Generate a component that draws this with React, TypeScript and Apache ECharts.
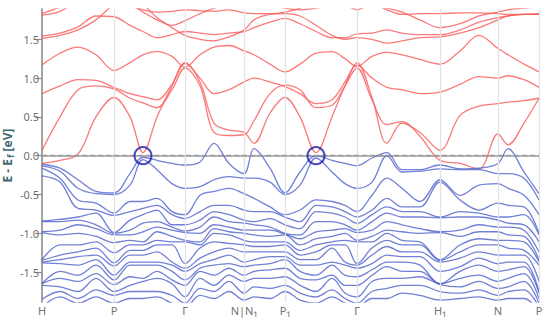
import React, { useEffect, useRef } from "react";
import * as echarts from "echarts";

// k-path sample positions (arbitrary path-length units)
const kPoints = [0, 18, 36, 54, 72, 88, 101, 115, 130, 143, 158, 172, 187, 202, 212, 228, 243, 258, 274, 290, 303, 315, 330, 345, 360, 378, 398, 418, 437, 456, 466, 482, 497];

// high-symmetry points
const symLabels = ["H", "P", "Γ", "N|N₁", "P₁", "Γ", "H₁", "N", "P"];
const symPositions = [0, 72, 143, 202, 243, 315, 398, 456, 497];
const yTicks = [-1.5, -1, -0.5, 0, 0.5, 1, 1.5];
const diracPoints = [[101, 0], [274, 0]];

// conduction bands (eV), one value per kPoint
const cb1 = [-0.10, -0.06, 0.02, 0.50, 0.75, 0.50, 0.04, 0.50, 0.90, 1.20, 0.95, 0.42, 0.33, 0.30, 0.16, 0.55, 0.75, 0.50, 0.04, 0.50, 0.90, 1.20, 0.75, 0.16, 0.42, 0.30, 0.07, 0.52, 0.64, 0.67, 0.69, 0.71, 0.74];
const cb2 = [0.80, 0.90, 0.98, 0.97, 0.88, 0.80, 0.76, 0.72, 0.92, 1.19, 1.00, 0.80, 0.85, 0.95, 1.00, 0.95, 0.89, 0.80, 0.67, 0.72, 0.95, 1.17, 1.00, 0.88, 0.85, 0.80, 0.82, 0.92, 1.02, 1.00, 1.03, 0.98, 0.88];
const cb3 = [0.07, 0.50, 0.85, 0.90, 0.86, 0.74, 0.68, 0.62, 0.85, 1.13, 0.90, 0.30, 0.26, 0.27, 0.45, 0.80, 0.91, 0.85, 0.62, 0.65, 0.90, 1.13, 0.72, 0.40, 0.44, 0.25, -0.06, -0.10, -0.17, 0.28, 0.14, 0.42, 0.74];
const cb4 = [1.17, 1.32, 1.40, 1.30, 1.10, 1.20, 1.30, 1.34, 1.28, 1.14, 1.30, 1.40, 1.42, 1.35, 1.30, 1.18, 1.08, 1.18, 1.32, 1.34, 1.25, 1.15, 1.28, 1.33, 1.30, 1.24, 1.18, 1.35, 1.55, 1.38, 1.30, 1.18, 1.08];
const cb5 = [1.54, 1.58, 1.66, 1.80, 1.79, 1.68, 1.60, 1.52, 1.56, 1.60, 1.58, 1.56, 1.58, 1.60, 1.65, 1.72, 1.77, 1.70, 1.60, 1.52, 1.52, 1.57, 1.58, 1.62, 1.58, 1.56, 1.56, 1.62, 1.72, 1.78, 1.80, 1.82, 1.82];
const cb6 = [1.51, 1.55, 1.62, 1.75, 1.95, 2.05, 1.95, 1.78, 1.65, 1.55, 1.50, 1.48, 1.53, 1.62, 1.75, 1.82, 1.83, 1.80, 1.68, 1.55, 1.50, 1.52, 1.50, 1.45, 1.48, 1.52, 1.53, 1.58, 1.65, 1.75, 1.80, 1.82, 1.83];
const cb7 = [1.83, 1.92, 2.05, 2.10, 2.05, 1.95, 1.88, 1.85, 1.86, 1.88, 1.87, 1.86, 1.88, 1.84, 1.83, 1.83, 1.85, 1.90, 2.00, 2.00, 1.95, 1.88, 1.95, 1.88, 1.82, 1.83, 1.83, 1.84, 1.84, 1.83, 1.82, 1.82, 1.82];
const cb8 = [1.81, 1.86, 2.00, 2.10, 2.00, 1.95, 1.85, 1.75, 1.68, 1.74, 1.83, 1.90, 1.95, 2.00, 2.00, 1.95, 1.90, 1.88, 1.90, 1.95, 2.00, 2.00, 1.95, 1.90, 1.85, 1.75, 1.65, 1.70, 1.80, 1.85, 1.88, 1.90, 1.92];
const conductionBands = [cb1, cb2, cb3, cb4, cb5, cb6, cb7, cb8];

// valence energies (eV) at each kPoint, highest first
const valenceAtK = [
  [-0.11, -0.13, -0.16, -0.26, -0.84, -0.85, -0.98, -0.99, -1.34, -1.35, -1.37, -1.38, -1.65, -1.65, -1.67, -1.85, -1.95],
  [-0.16, -0.20, -0.29, -0.34, -0.82, -0.85, -0.96, -1.02, -1.15, -1.28, -1.34, -1.39, -1.49, -1.58, -1.69, -1.75, -1.82],
  [-0.31, -0.42, -0.57, -0.68, -0.79, -0.83, -0.89, -1.00, -1.15, -1.24, -1.30, -1.41, -1.54, -1.62, -1.75, -1.84, -1.90],
  [-0.46, -0.49, -0.61, -0.70, -0.74, -0.89, -0.94, -1.04, -1.11, -1.19, -1.28, -1.34, -1.41, -1.52, -1.58, -1.73, -1.82],
  [-0.48, -0.50, -0.74, -0.77, -0.99, -1.00, -1.02, -1.12, -1.25, -1.38, -1.42, -1.54, -1.60, -1.66, -1.75, -1.80, -1.90],
  [-0.23, -0.38, -0.59, -0.72, -0.83, -0.96, -1.02, -1.09, -1.15, -1.22, -1.28, -1.37, -1.41, -1.56, -1.67, -1.75, -1.84],
  [-0.02, -0.05, -0.59, -0.68, -0.76, -0.87, -0.98, -1.11, -1.15, -1.22, -1.28, -1.37, -1.41, -1.58, -1.62, -1.75, -1.84],
  [-0.06, -0.18, -0.55, -0.64, -0.70, -0.85, -0.92, -0.98, -1.09, -1.15, -1.24, -1.37, -1.41, -1.49, -1.58, -1.75, -1.82],
  [-0.10, -0.36, -0.72, -0.76, -0.89, -0.92, -0.96, -1.04, -1.11, -1.15, -1.37, -1.41, -1.49, -1.60, -1.65, -1.80, -1.90],
  [-0.12, -0.42, -0.76, -0.81, -0.89, -0.97, -0.99, -1.09, -1.11, -1.39, -1.45, -1.49, -1.60, -1.67, -1.82, -1.90, -1.95],
  [-0.08, -0.40, -0.51, -0.72, -0.83, -0.92, -1.00, -1.11, -1.15, -1.19, -1.32, -1.39, -1.45, -1.49, -1.58, -1.71, -1.80],
  [0.16, -0.31, -0.46, -0.64, -0.72, -0.79, -0.89, -0.94, -1.00, -1.11, -1.24, -1.34, -1.41, -1.54, -1.67, -1.75, -1.84],
  [-0.10, -0.27, -0.42, -0.64, -0.76, -0.85, -0.92, -0.98, -1.02, -1.13, -1.19, -1.28, -1.39, -1.45, -1.54, -1.62, -1.75],
  [-0.23, -0.29, -0.49, -0.70, -0.83, -0.87, -0.96, -1.00, -1.09, -1.15, -1.24, -1.37, -1.43, -1.54, -1.62, -1.77, -1.86],
  [0.09, -0.29, -0.55, -0.72, -0.85, -0.89, -0.96, -1.02, -1.11, -1.17, -1.24, -1.34, -1.41, -1.49, -1.58, -1.69, -1.82],
  [-0.16, -0.34, -0.66, -0.72, -0.81, -0.92, -0.96, -1.04, -1.11, -1.17, -1.24, -1.30, -1.39, -1.47, -1.58, -1.71, -1.84],
  [-0.48, -0.50, -0.76, -0.79, -0.89, -1.00, -1.01, -1.02, -1.11, -1.15, -1.24, -1.30, -1.34, -1.45, -1.56, -1.67, -1.75],
  [-0.21, -0.38, -0.70, -0.85, -0.94, -1.02, -1.07, -1.15, -1.22, -1.28, -1.34, -1.41, -1.49, -1.58, -1.67, -1.77, -1.86],
  [0.00, -0.03, -0.57, -0.64, -0.72, -0.85, -0.98, -1.07, -1.15, -1.24, -1.34, -1.41, -1.54, -1.60, -1.75, -1.82, -1.90],
  [-0.06, -0.21, -0.59, -0.66, -0.74, -0.85, -0.96, -1.04, -1.11, -1.15, -1.19, -1.37, -1.41, -1.54, -1.58, -1.73, -1.82],
  [-0.10, -0.36, -0.64, -0.72, -0.79, -0.89, -0.94, -1.00, -1.09, -1.15, -1.37, -1.41, -1.54, -1.67, -1.77, -1.84, -1.90],
  [-0.13, -0.42, -0.72, -0.79, -0.87, -0.96, -0.99, -1.09, -1.11, -1.39, -1.41, -1.45, -1.56, -1.67, -1.82, -1.90, -1.95],
  [-0.03, -0.34, -0.51, -0.70, -0.76, -0.85, -0.96, -1.04, -1.11, -1.19, -1.28, -1.39, -1.47, -1.54, -1.62, -1.75, -1.84],
  [0.04, 0.00, -0.29, -0.55, -0.66, -0.74, -0.85, -0.96, -1.00, -1.09, -1.17, -1.28, -1.37, -1.43, -1.58, -1.71, -1.84],
  [-0.18, -0.21, -0.42, -0.66, -0.72, -0.79, -0.89, -0.98, -1.09, -1.15, -1.24, -1.30, -1.37, -1.49, -1.58, -1.67, -1.77],
  [-0.18, -0.20, -0.59, -0.66, -0.72, -0.79, -0.94, -1.00, -1.11, -1.15, -1.24, -1.30, -1.41, -1.49, -1.56, -1.67, -1.80],
  [-0.12, -0.17, -0.31, -0.34, -0.79, -0.80, -0.98, -0.99, -1.34, -1.35, -1.37, -1.49, -1.65, -1.65, -1.66, -1.75, -1.86],
  [-0.17, -0.18, -0.51, -0.57, -0.72, -0.79, -0.96, -1.04, -1.15, -1.24, -1.32, -1.43, -1.49, -1.58, -1.69, -1.77, -1.84],
  [-0.16, -0.18, -0.38, -0.70, -0.74, -0.79, -0.89, -0.98, -1.07, -1.15, -1.24, -1.32, -1.41, -1.54, -1.62, -1.73, -1.82],
  [-0.10, -0.23, -0.36, -0.61, -0.79, -0.83, -0.92, -0.98, -1.09, -1.15, -1.28, -1.39, -1.49, -1.62, -1.71, -1.80, -1.86],
  [0.09, -0.23, -0.42, -0.64, -0.79, -0.87, -0.92, -1.02, -1.09, -1.19, -1.28, -1.37, -1.47, -1.58, -1.69, -1.75, -1.84],
  [-0.21, -0.29, -0.51, -0.66, -0.76, -0.89, -0.96, -1.04, -1.11, -1.22, -1.28, -1.37, -1.43, -1.52, -1.62, -1.73, -1.84],
  [-0.49, -0.57, -0.76, -1.00, -1.02, -1.11, -1.24, -1.34, -1.37, -1.41, -1.62, -1.75, -1.77, -1.84, -1.90, -1.95, -2.00],
];

const RED = "rgba(250,92,92,0.82)";
const BLUE = "rgba(80,100,205,0.82)";

export default function App() {
  const ref = useRef<HTMLDivElement>(null);

  useEffect(() => {
    if (!ref.current) return;
    const chart = echarts.init(ref.current, undefined, { renderer: "svg" });

    const nValence = valenceAtK[0].length;
    const valenceBands: number[][] = [];
    for (let b = 0; b < nValence; b++) valenceBands.push(valenceAtK.map((col) => col[b]));

    const bandSeries = (bands: number[][], color: string) =>
      bands.map((band) => ({
        type: "line",
        data: kPoints.map((k, i) => [k, band[i]]),
        smooth: 0.35,
        symbol: "none",
        silent: true,
        z: 3,
        lineStyle: { color, width: 1.3 },
      }));

    const option: any = {
      animation: false,
      grid: { left: 42, right: 11, top: 9, bottom: 20, containLabel: false, outerBoundsMode: "none" },
      xAxis: {
        type: "value",
        min: 0,
        max: 497,
        axisLine: { lineStyle: { color: "#9a9a9a", width: 1.5 } },
        axisTick: {
          show: true,
          customValues: symPositions,
          length: 5,
          lineStyle: { color: "#9a9a9a", width: 1.2 },
        },
        axisLabel: {
          customValues: symPositions,
          formatter: (v: number) => symLabels[symPositions.indexOf(v)] ?? "",
          color: "#707070",
          fontSize: 11,
          fontFamily: "Noto Sans",
          margin: 3,
        },
        splitLine: { show: false },
      },
      yAxis: {
        type: "value",
        min: -1.885,
        max: 1.89,
        name: "{a|E - E}{s|f}{a| [eV]}",
        nameLocation: "middle",
        nameRotate: 90,
        nameGap: 27,
        nameMoveOverlap: false,
        nameTextStyle: {
          rich: {
            a: { fontSize: 12, color: "#3e6872", fontWeight: "bold", fontFamily: "Noto Sans" },
            s: { fontSize: 9, color: "#3e6872", fontWeight: "bold", fontFamily: "Noto Sans", padding: [6, 0, 0, 1] },
          },
        },
        axisLine: { show: true, lineStyle: { color: "#8c8c8c", width: 1.6 } },
        axisTick: {
          show: true,
          customValues: yTicks,
          length: 7,
          lineStyle: { color: "#8c8c8c", width: 1.2 },
        },
        axisLabel: {
          customValues: yTicks,
          formatter: (v: number) => v.toFixed(1),
          color: "#707070",
          fontSize: 11,
          fontFamily: "Noto Sans",
          margin: 3,
        },
        splitLine: { show: false },
      },
      series: [
        {
          type: "line",
          data: [],
          z: 1,
          silent: true,
          markLine: {
            silent: true,
            symbol: "none",
            label: { show: false },
            lineStyle: { color: "#e2e2e2", width: 1.2, type: "solid" },
            data: symPositions.slice(1).map((k) => ({ xAxis: k })),
          },
        },
        ...bandSeries(conductionBands, RED),
        ...bandSeries(valenceBands, BLUE),
        {
          type: "scatter",
          data: diracPoints,
          symbol: "circle",
          symbolSize: 17,
          z: 10,
          silent: true,
          itemStyle: { color: "rgba(0,0,0,0)", borderColor: "#1c1ca8", borderWidth: 2 },
          markLine: {
            silent: true,
            symbol: "none",
            label: { show: false },
            lineStyle: { color: "#9a9a9a", width: 1.3, type: [5, 3] },
            data: [{ yAxis: 0 }],
          },
        },
      ],
    };

    chart.setOption(option);
    return () => chart.dispose();
  }, []);

  return <div ref={ref} style={{ position: "absolute", left: 0, top: 0, width: 550, height: 322 }} />;
}
